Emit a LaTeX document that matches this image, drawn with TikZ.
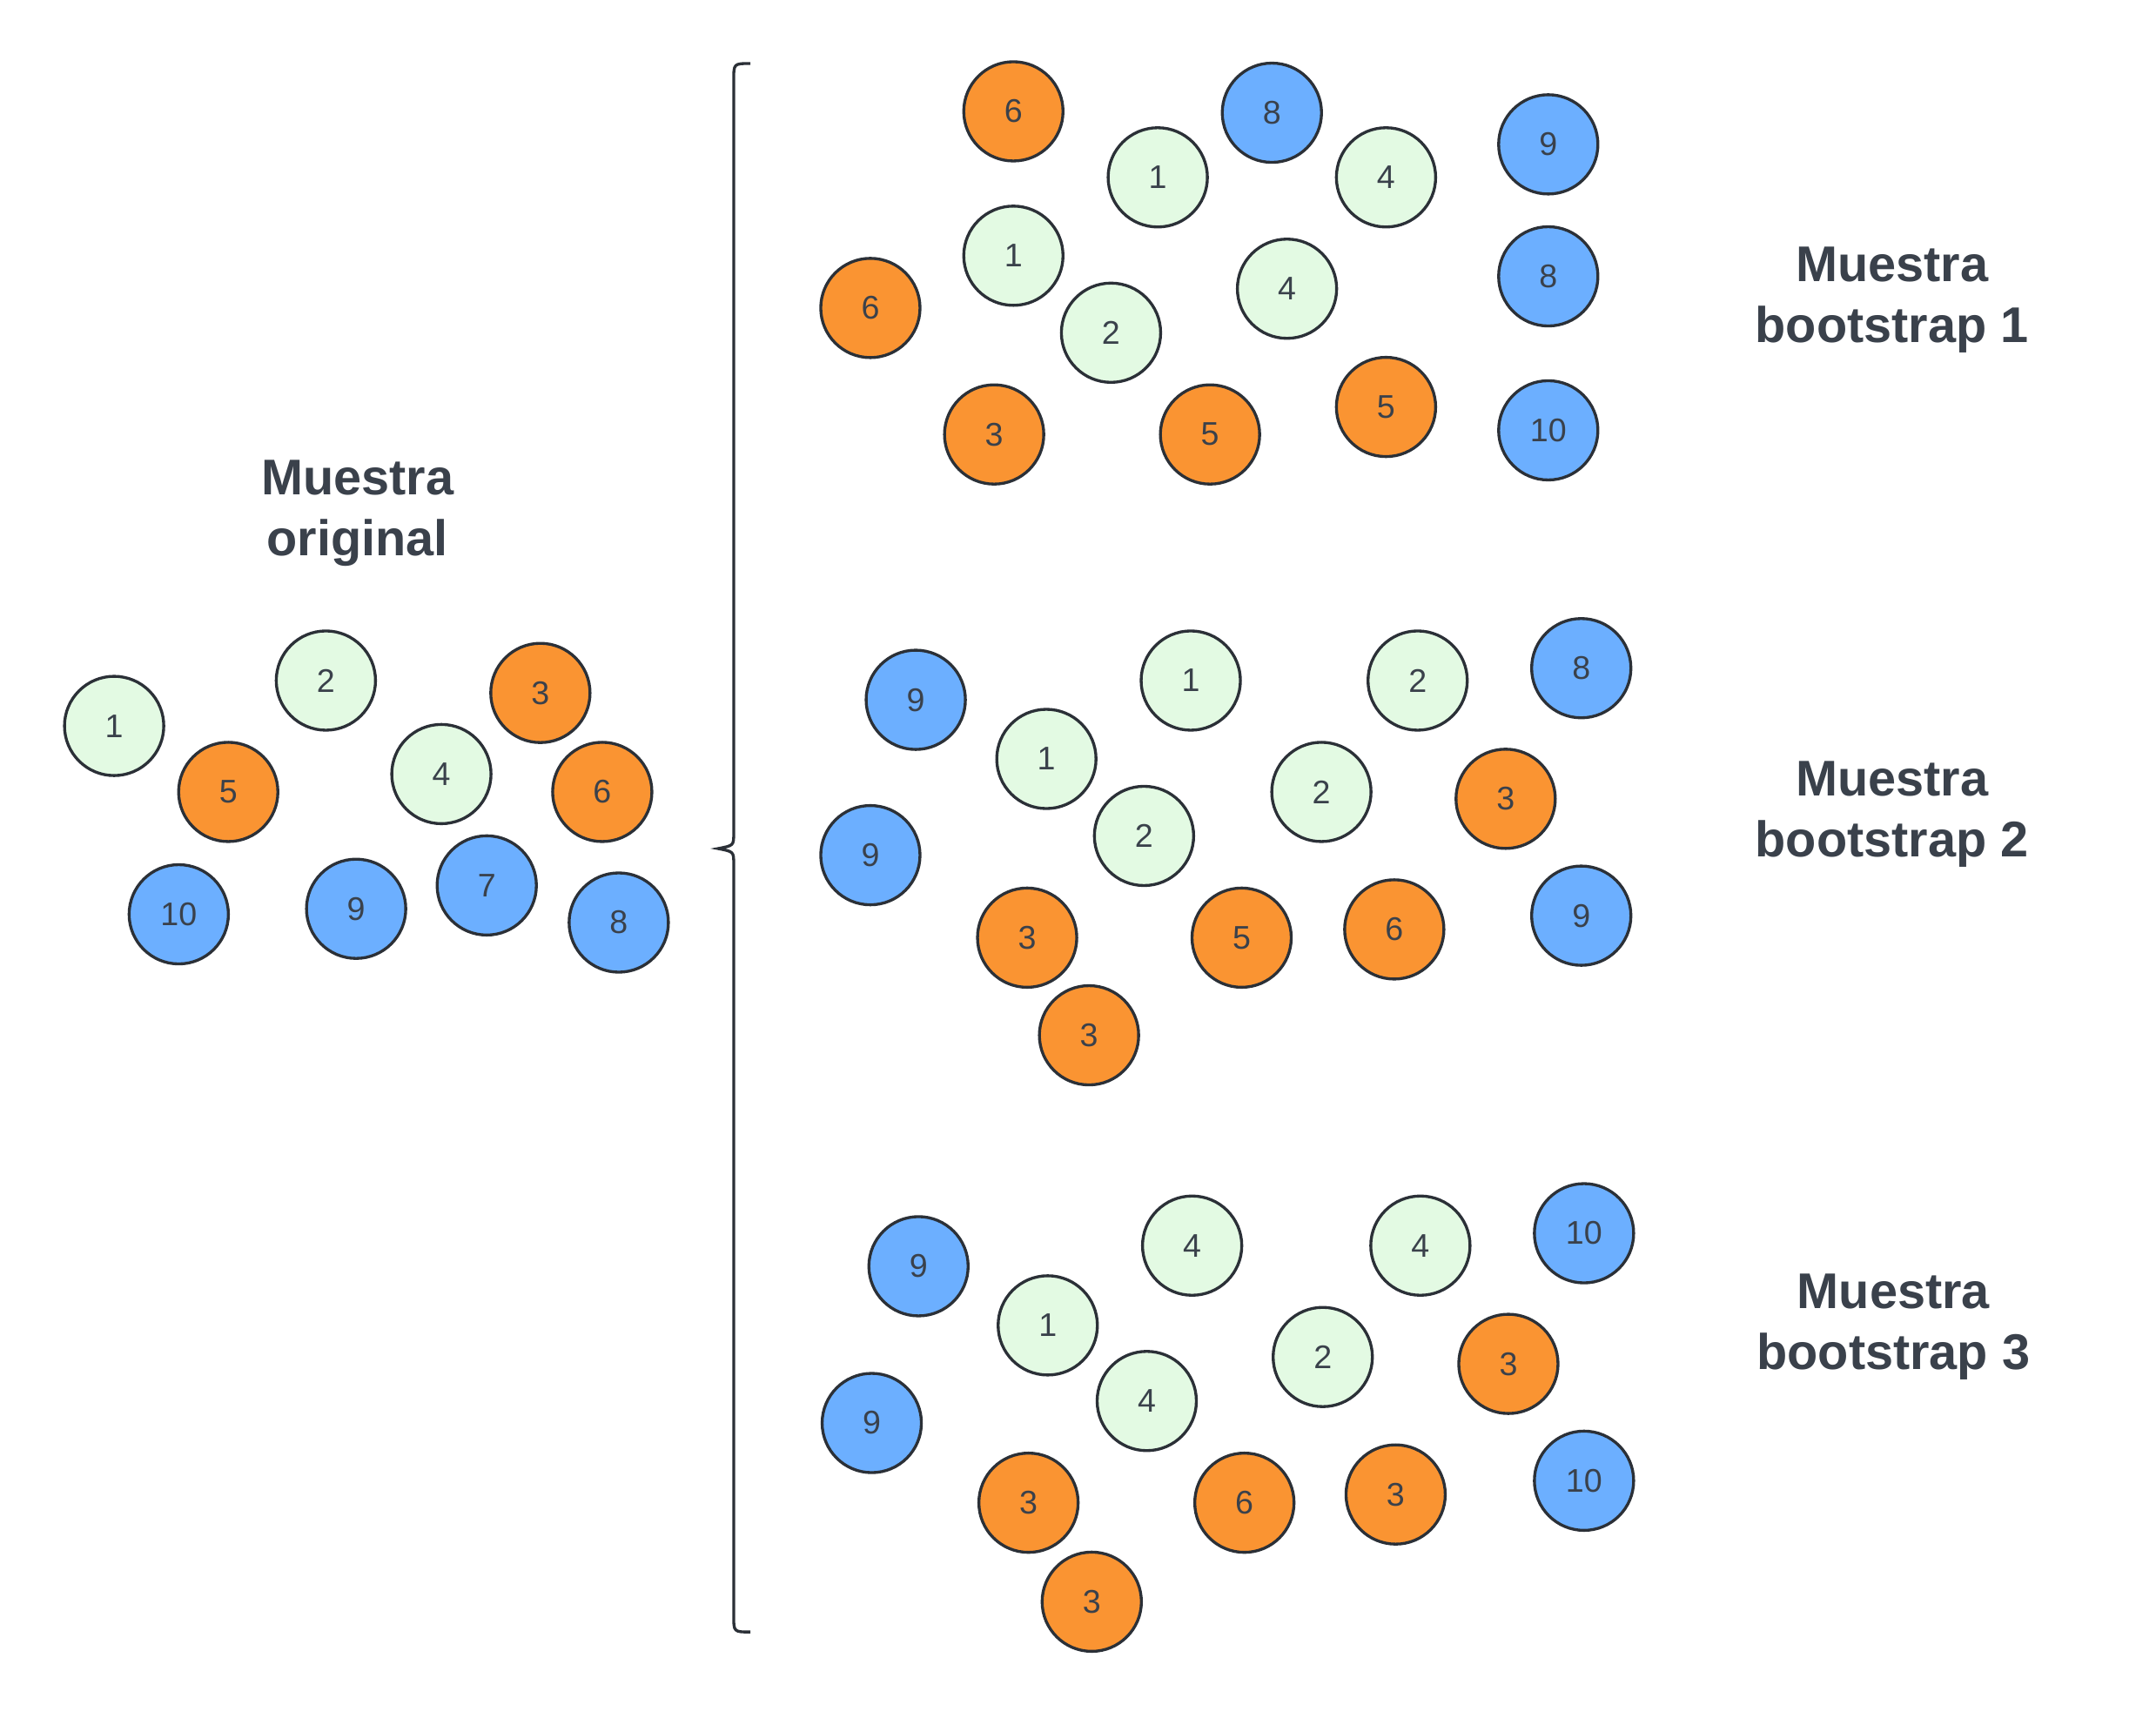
\documentclass[tikz,border=0pt]{standalone}
\usepackage{fontspec}
\setmainfont{Liberation Sans}
\usepackage{tikz}
\usetikzlibrary{positioning}
\definecolor{ballline}{HTML}{2B3037}
\definecolor{balltext}{HTML}{3A414B}
\definecolor{ballgreen}{HTML}{E3FAE3}
\definecolor{ballorange}{HTML}{FA9432}
\definecolor{ballblue}{HTML}{6CAFFF}
\tikzset{
  ball/.style={circle,draw=ballline,line width=0.95pt,minimum size=1.14cm,inner sep=0pt,
    text=balltext,font=\fontsize{10.7}{12}\selectfont},
  gball/.style={ball,fill=ballgreen},
  oball/.style={ball,fill=ballorange},
  bball/.style={ball,fill=ballblue},
  title/.style={align=center,anchor=base,text=balltext,font=\bfseries\fontsize{16.4}{19.9}\selectfont},
  brace/.style={draw=ballline,line width=0.95pt}
}
\begin{document}
\begin{tikzpicture}[x=0.015797cm,y=-0.015797cm]
\useasboundingbox (0,0) rectangle (1568,1249);
% muestra original
\node[title] (torig) at (260,403.9) {Muestra\\original};
\node[gball] (o1) at (83,528) {1};
\node[gball] (o2) at (237,495) {2};
\node[oball] (o3) at (393,504) {3};
\node[gball] (o4) at (321,563) {4};
\node[oball] (o5) at (166,576) {5};
\node[oball] (o6) at (438,576) {6};
\node[bball] (o7) at (354,644) {7};
\node[bball] (o8) at (450,671) {8};
\node[bball] (o9) at (259,661) {9};
\node[bball] (o10) at (130,665) {10};
% llave
\draw[brace] (545.7,46.2) .. controls (533.6,46.2) .. (533.6,58.3) -- (533.6,606)
  .. controls (533.6,615) .. (522.2,617.2) .. controls (533.6,619.4) .. (533.6,628.4)
  -- (533.6,1175) .. controls (533.6,1187) .. (545.7,1187);
% muestra bootstrap 1
\node[title] (tboot1) at (1376,248.9) {Muestra\\bootstrap 1};
\node[oball] (a1) at (737,81) {6};
\node[bball] (a2) at (925,82) {8};
\node[bball] (a3) at (1126,105) {9};
\node[gball] (a4) at (842,129) {1};
\node[gball] (a5) at (1008,129) {4};
\node[gball] (a6) at (737,186) {1};
\node[oball] (a7) at (633,224) {6};
\node[gball] (a8) at (808,242) {2};
\node[gball] (a9) at (936,210) {4};
\node[bball] (a10) at (1126,201) {8};
\node[oball] (a11) at (723,316) {3};
\node[oball] (a12) at (880,316) {5};
\node[oball] (a13) at (1008,296) {5};
\node[bball] (a14) at (1126,313) {10};
% muestra bootstrap 2
\node[title] (tboot2) at (1376,622.9) {Muestra\\bootstrap 2};
\node[bball] (b1) at (666,509) {9};
\node[gball] (b2) at (866,495) {1};
\node[gball] (b3) at (1031,495) {2};
\node[bball] (b4) at (1150,486) {8};
\node[gball] (b5) at (761,552) {1};
\node[gball] (b6) at (961,576) {2};
\node[oball] (b7) at (1095,581) {3};
\node[bball] (b8) at (633,622) {9};
\node[gball] (b9) at (832,608) {2};
\node[oball] (b10) at (747,682) {3};
\node[oball] (b11) at (903,682) {5};
\node[oball] (b12) at (1014,676) {6};
\node[bball] (b13) at (1150,666) {9};
\node[oball] (b14) at (792,753) {3};
% muestra bootstrap 3
\node[title] (tboot3) at (1377,995.9) {Muestra\\bootstrap 3};
\node[bball] (c1) at (668,921) {9};
\node[gball] (c2) at (867,906) {4};
\node[gball] (c3) at (1033,906) {4};
\node[bball] (c4) at (1152,897) {10};
\node[gball] (c5) at (762,964) {1};
\node[gball] (c6) at (962,987) {2};
\node[oball] (c7) at (1097,992) {3};
\node[bball] (c8) at (634,1035) {9};
\node[gball] (c9) at (834,1019) {4};
\node[oball] (c10) at (748,1093) {3};
\node[oball] (c11) at (905,1093) {6};
\node[oball] (c12) at (1015,1087) {3};
\node[bball] (c13) at (1152,1077) {10};
\node[oball] (c14) at (794,1165) {3};
\end{tikzpicture}
\end{document}
